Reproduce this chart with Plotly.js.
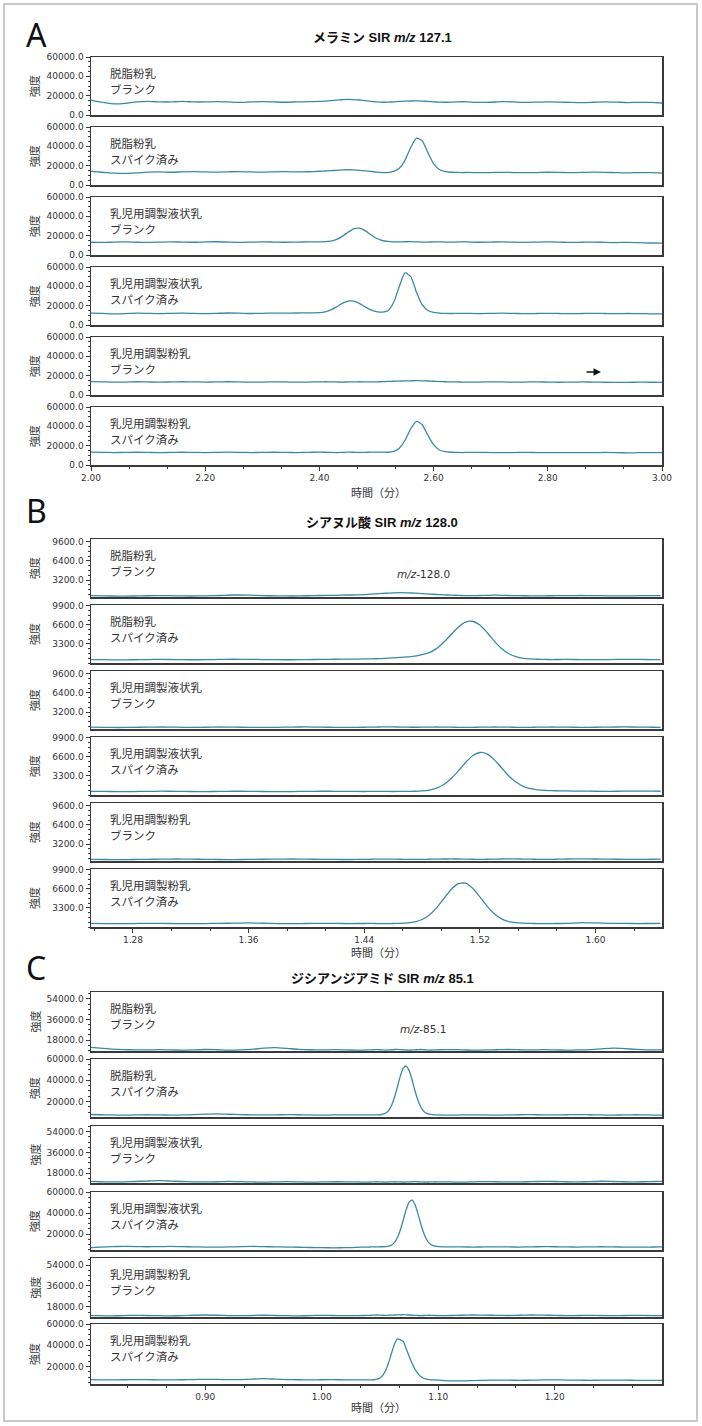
<!DOCTYPE html>
<html>
<head>
<meta charset="utf-8">
<script src="https://cdn.plot.ly/plotly-3.0.1.min.js"></script>
<style>
html,body{margin:0;padding:0;background:#fff;}
#chart{width:702px;height:1426px;}
</style>
</head>
<body>
<div id="chart"></div>
<script>
// ---------------- DATA ----------------
const panelLetters = ["A", "B", "C"];
const panelTitles = [
  "<b>メラミン SIR <i>m/z</i> 127.1</b>",
  "<b>シアヌル酸 SIR <i>m/z</i> 128.0</b>",
  "<b>ジシアンジアミド SIR <i>m/z</i> 85.1</b>"
];
const xAxisTitle = "時間（分）";
const yAxisTitle = "強度";
const sampleNames = ["脱脂粉乳", "脱脂粉乳", "乳児用調製液状乳", "乳児用調製液状乳", "乳児用調製粉乳", "乳児用調製粉乳"];
const sampleStates = ["ブランク", "スパイク済み", "ブランク", "スパイク済み", "ブランク", "スパイク済み"];
const massLabels = ["", "<i>m/z</i>-128.0", "<i>m/z</i>-85.1"];

// x ranges and ticks (minutes)
const xRangeA = [2.00, 3.00];
const xRangeB = [1.251, 1.646];
const xRangeC = [0.802, 1.292];

// y ticks per row
const yTicksA = [[0,20000,40000,60000],[0,20000,40000,60000],[0,20000,40000,60000],[0,20000,40000,60000],[0,20000,40000,60000],[0,20000,40000,60000]];
const yRangeA = [[0,60000],[0,60000],[0,60000],[0,60000],[0,60000],[0,60000]];
const yTicksB = [[3200,6400,9600],[3300,6600,9900],[3200,6400,9600],[3300,6600,9900],[3200,6400,9600],[3300,6600,9900]];
const yRangeB = [[370,10050],[0,10070],[370,10050],[0,10070],[370,10050],[0,10070]];
const yTicksC = [[18000,36000,54000],[20000,40000,60000],[18000,36000,54000],[20000,40000,60000],[18000,36000,54000],[20000,40000,60000]];
const yRangeC = [[8500,60000],[5600,60000],[9600,58900],[4800,60000],[9400,60000],[3400,60000]];

// ---- Panel A: melamine ----
const tA = [2.00,2.02,2.04,2.06,2.08,2.10,2.12,2.14,2.16,2.18,2.20,2.22,2.24,2.26,2.28,2.30,2.32,2.34,2.36,2.38,2.40,
  2.41,2.42,2.43,2.44,2.45,2.46,2.47,2.48,2.49,2.50,2.51,2.52,2.53,2.54,2.55,2.56,2.57,2.58,2.59,2.60,2.61,2.62,2.63,2.64,2.65,2.66,
  2.68,2.70,2.72,2.74,2.76,2.78,2.80,2.82,2.84,2.86,2.88,2.90,2.92,2.94,2.96,2.98,3.00];
const yA1 = [15500,13000,11500,12000,13500,14000,13500,13500,14000,13500,13500,13800,13500,13000,13500,13800,13500,13200,13500,13800,14000,
  14300,14800,15300,15800,16200,16000,15500,14800,14000,13500,13200,13300,13600,14000,14300,14500,14600,14400,14000,13600,13300,13200,13300,13500,13700,13500,
  13000,13200,13800,13500,13000,13300,13600,13400,13000,12800,13200,13600,13300,12900,13100,13000,12400];
const yA2 = [14000,13200,12200,12000,12500,13300,13500,13200,13600,13800,13500,13300,13600,13900,13500,13300,13600,13800,13500,13700,14200,
  14500,14800,15200,15600,15800,15600,15200,14600,14000,13400,12900,12800,14000,17300,25800,38800,48400,45700,33500,22000,16000,13900,13200,13000,12900,13000,
  12800,12900,13100,12900,12700,12900,13200,13000,12800,13000,13300,13100,12800,12600,12800,12700,12300];
const yA3 = [13200,13000,13300,13500,13200,13000,13300,13600,13400,13200,13500,13700,13400,13100,13300,13600,13400,13200,13400,13500,13600,
  13750,14400,16100,19300,23600,27100,27800,25200,21000,17300,15000,14000,13600,13500,13700,13800,13600,13400,13300,13500,13600,13400,13300,13400,13600,13500,
  13200,13400,13600,13300,13100,13300,13500,13300,13000,13200,13400,13100,12900,13100,12800,12400,12200];
const yA4 = [12300,12000,11600,11800,12200,12000,11800,12100,12300,12000,11800,12100,12400,12200,11900,12100,12300,12200,12400,12500,12700,
  13600,15700,18800,22300,24700,24700,22300,18800,15700,13900,13300,14800,23200,40000,54000,50000,34000,21000,15000,13000,12300,12000,11900,12000,12100,12000,
  11800,12000,12200,12000,11700,11900,12100,11900,11700,11900,12100,11900,11700,11900,11800,11600,11500];
const yA5 = [13800,13600,13300,13400,13700,13500,13300,13500,13700,13600,13400,13500,13700,13500,13300,13400,13600,13500,13300,13400,13600,
  13700,13600,13500,13400,13500,13600,13700,13600,13500,13600,13800,14000,14200,14400,14600,14700,14800,14700,14500,14200,13900,13700,13600,13500,13400,13300,
  13400,13600,13500,13300,13400,13600,13400,13200,13300,13500,13400,13200,13000,13100,13300,13200,13100];
const yA6 = [13300,13100,12900,13000,13200,13000,12800,13000,13200,13100,12900,13100,13300,13100,12900,13000,13200,13000,12900,13100,13300,
  13200,13000,12900,13100,13300,13200,13000,13100,13300,13400,13300,13200,14000,17400,25600,37500,45200,41700,30800,21000,15500,13800,13200,13000,12900,13000,
  13100,12900,12800,12900,13100,12900,12700,12800,12900,12700,12800,13000,12800,12600,12700,12800,12700];

// ---- Panel B: cyanuric acid ----
const tB = [1.25,1.26,1.27,1.28,1.29,1.30,1.31,1.32,1.33,1.34,1.35,1.36,1.37,1.38,1.39,1.40,1.41,1.42,1.43,1.44,
  1.445,1.45,1.455,1.46,1.465,1.47,1.475,1.48,1.485,1.49,1.495,1.50,1.505,1.51,1.515,1.52,1.525,1.53,1.535,1.54,1.545,1.55,1.555,1.56,1.565,1.57,1.575,
  1.58,1.59,1.60,1.61,1.62,1.63,1.64,1.645];
const yB1 = [600,560,520,540,580,600,570,540,560,620,700,680,600,560,540,580,620,650,700,780,
  850,920,1000,1060,1090,1070,1010,940,860,790,730,680,640,610,600,620,650,670,650,620,600,580,570,560,570,580,590,
  590,620,600,570,560,590,610,600];
const yB2 = [600,570,540,560,600,620,590,560,580,620,650,630,600,580,560,590,620,650,680,700,
  720,760,800,880,960,1060,1180,1450,1800,2500,3600,4900,6200,7100,7250,6600,5300,3800,2500,1600,1100,820,700,650,620,600,610,
  620,600,580,600,640,620,590,580];
const yB3 = [680,650,620,640,680,700,670,640,660,700,680,650,630,650,690,710,680,650,640,660,
  680,700,720,710,690,670,660,670,690,700,690,670,650,640,650,670,690,700,690,670,650,640,650,670,690,700,690,
  670,650,660,690,710,690,660,650];
const yB4 = [650,620,590,600,630,660,640,610,600,620,650,640,610,590,600,630,650,640,620,610,
  620,630,620,610,620,640,650,700,850,1190,1810,2810,4140,5590,6800,7380,7130,6130,4730,3310,2260,1500,1100,900,800,750,720,
  700,680,650,640,660,680,660,650];
const yB5 = [640,620,600,620,650,680,700,680,650,620,610,630,660,690,700,680,650,630,620,640,
  660,680,690,680,660,640,630,640,660,680,700,710,700,680,660,650,660,680,700,720,710,690,670,650,640,650,670,
  700,720,700,670,650,640,660,680];
const yB6 = [620,600,580,600,640,620,590,570,600,640,660,700,650,600,580,610,640,620,600,610,
  620,600,590,610,640,700,880,1300,2080,3320,4910,6470,7520,7610,6740,5240,3620,2300,1420,950,750,660,620,600,590,600,610,
  620,760,700,640,620,600,610,620];

// ---- Panel C: dicyandiamide ----
const tC = [0.80,0.81,0.82,0.83,0.84,0.85,0.86,0.87,0.88,0.89,0.90,0.91,0.92,0.93,0.94,0.95,0.96,0.97,0.98,0.99,1.00,1.01,1.02,1.03,1.04,
  1.0425,1.045,1.0475,1.05,1.0525,1.055,1.0575,1.06,1.0625,1.065,1.0675,1.07,1.0725,1.075,1.0775,1.08,1.0825,1.085,1.0875,1.09,1.0925,1.095,1.0975,1.10,
  1.11,1.12,1.13,1.14,1.15,1.16,1.17,1.18,1.19,1.20,1.21,1.22,1.23,1.24,1.25,1.26,1.27,1.28,1.29,1.30];
const yC1 = [11800,11000,10200,9700,9500,9400,9700,9500,9300,9400,9800,9600,9300,9500,10000,11000,11400,10800,10000,9600,9400,9700,9500,9300,9400,
  9500,9600,9700,9600,9400,9300,9400,9600,9800,9900,9700,9500,9400,9300,9400,9500,9700,9800,9600,9400,9300,9400,9500,9600,
  9700,9500,9300,9400,9600,9800,9600,9400,9700,9500,9300,9400,9700,10400,11000,10600,9900,9500,9400,9600];
const yC2 = [8000,7700,7500,7400,7500,7700,7600,7400,7500,7800,8300,8600,8200,7800,7600,7500,7600,7800,7700,7500,7400,7500,7600,7500,7500,
  7500,7550,7600,7700,8200,9300,11900,16700,24300,34100,44200,51500,53400,49100,40500,30200,21500,15000,11000,9000,8200,7800,7600,7500,
  7400,7500,7600,7500,7400,7500,7700,7800,7600,7500,7700,7900,7700,7500,7400,7600,7700,7500,7400,7500];
const yC3 = [11000,10700,10500,10600,10900,11300,11600,11300,10900,10600,10500,10700,11000,10800,10500,10400,10600,10800,10600,10400,10500,10700,10600,10500,10400,
  10500,10600,10700,10600,10500,10400,10500,10600,10700,10600,10500,10400,10500,10600,10700,10800,10700,10600,10500,10400,10500,10600,10700,10600,
  10500,10400,10600,10800,10700,10500,10600,10800,11000,10900,10700,10600,10800,11100,10900,10700,10600,10800,11000,10900];
const yC4 = [7000,7600,8000,8200,8100,7900,8000,8200,8000,7800,7600,7500,7700,8000,8200,8000,7800,7600,7400,7200,7000,6900,7000,7300,7600,
  7700,7800,7800,7900,7900,8000,8450,9600,12100,16700,24100,33600,43300,50300,52200,48100,39600,29600,21000,14800,11000,9200,8400,8000,
  7800,7700,7600,7700,7800,7700,7600,7800,8000,7900,7700,7600,7800,7900,7700,7600,7500,7600,7700,7600];
const yC5 = [10600,10500,10400,10600,10800,10700,10500,10400,10600,10900,11100,10900,10600,10500,10700,10900,10700,10500,10400,10600,10800,10700,10500,10600,10800,
  10900,11000,11100,11000,10900,10800,10900,11000,11100,11200,11300,11400,11300,11100,10900,10800,10700,10600,10700,10800,10900,10800,10700,10600,
  10700,10900,11100,11000,10800,10700,10900,11100,11000,10800,10600,10700,10800,10700,10600,10700,10800,10700,10600,10700];
const yC6 = [7500,7300,7200,7400,7600,7500,7300,7200,7400,7600,7800,7700,7500,7600,8000,8400,8000,7600,7400,7300,7400,7500,7300,7200,7300,
  7300,7400,7900,9100,11800,16600,23900,32900,41200,46000,45000,43500,36600,29600,22900,17300,13200,10400,8800,7900,7500,7300,7200,7100,
  6400,6300,6600,6900,7100,7000,6900,7000,7200,7300,7100,7000,6900,7000,7100,7000,6900,6800,6900,7000];

// ---------------- LAYOUT ----------------
const W = 702, H = 1426;
const PX0 = 91, PX1 = 662;
const rowPx = [
  [[57,115],[127,185],[197,255],[267,325],[337,395],[407,465]],
  [[539,597],[605,663],[671,729],[737,795],[803,861],[869,927]],
  [[992,1051],[1059,1117],[1126,1183],[1192,1250],[1258,1317],[1324,1384]]
];
const panelX = [tA, tB, tC];
const panelY = [[yA1,yA2,yA3,yA4,yA5,yA6],[yB1,yB2,yB3,yB4,yB5,yB6],[yC1,yC2,yC3,yC4,yC5,yC6]];
const panelXRange = [xRangeA, xRangeB, xRangeC];
const panelXTick = [{tick0:2.0, dtick:0.2}, {tick0:1.28, dtick:0.08}, {tick0:0.9, dtick:0.1}];
const panelYTicks = [yTicksA, yTicksB, yTicksC];
const panelYRange = [yRangeA, yRangeB, yRangeC];
const letterY = [34, 511, 967];
const titleY = [38, 522, 978];
const xTitleY = [492, 952, 1407];

const px = v => v / W;
const py = v => 1 - v / H;

const AX_COLOR = '#3a3a3a';
const TRACE_COLOR = '#3c8aa2';
const tickFont = {family: 'DejaVu Sans, Verdana, sans-serif', size: 9, color: '#333'};
const jpFont = 'Noto Sans CJK JP, sans-serif';

const traces = [];
const layout = {
  width: W, height: H,
  margin: {l:0, r:0, t:0, b:0},
  paper_bgcolor: '#fff', plot_bgcolor: '#fff',
  showlegend: false,
  annotations: [],
  shapes: [{type:'rect', xref:'paper', yref:'paper', x0:px(4), x1:px(697), y0:py(1421), y1:py(4),
            line:{color:'#c9c9c9', width:2}}]
};

let k = 0;
for (let p = 0; p < 3; p++) {
  for (let r = 0; r < 6; r++) {
    k++;
    const xs = k === 1 ? '' : String(k);
    const [top, bot] = rowPx[p][r];
    const isBottom = r === 5;
    traces.push({
      x: panelX[p], y: panelY[p][r], xaxis: 'x' + xs, yaxis: 'y' + xs,
      type: 'scatter', mode: 'lines',
      line: {color: TRACE_COLOR, width: 1.3, shape: 'spline', smoothing: 0.6},
      hoverinfo: 'skip'
    });
    const tv = panelYTicks[p][r];
    const step = tv[1] - tv[0];
    layout['xaxis' + xs] = {
      domain: [px(PX0), px(PX1)], anchor: 'y' + xs,
      range: panelXRange[p], showgrid: false, zeroline: false,
      showline: true, mirror: true, linecolor: AX_COLOR, linewidth: 1.5,
      ticks: isBottom ? 'outside' : '', ticklen: 4, tickcolor: AX_COLOR, tickwidth: 1,
      showticklabels: isBottom, tickmode: 'linear',
      tick0: panelXTick[p].tick0, dtick: panelXTick[p].dtick,
      tickformat: '.2f', tickfont: tickFont,
      minor: isBottom ? {tick0: panelXTick[p].tick0, dtick: panelXTick[p].dtick / 3, ticks: 'outside', ticklen: 2, tickcolor: AX_COLOR, showgrid: false} : {ticks: ''},
      fixedrange: true
    };
    layout['yaxis' + xs] = {
      domain: [py(bot), py(top)], anchor: 'x' + xs,
      range: panelYRange[p][r], showgrid: false, zeroline: false,
      showline: true, mirror: true, linecolor: AX_COLOR, linewidth: 1.5,
      ticks: 'outside', ticklen: 4, tickcolor: AX_COLOR, tickwidth: 1,
      tickmode: 'array', tickvals: tv, ticktext: tv.map(v => v.toFixed(1)),
      tickfont: tickFont,
      minor: {tick0: 0, dtick: step / 4, ticks: 'outside', ticklen: 2, tickcolor: AX_COLOR, showgrid: false},
      fixedrange: true
    };
    // row labels
    layout.annotations.push({xref:'paper', yref:'paper', x:px(108), y:py(top + 16), xanchor:'left', yanchor:'middle',
      text: sampleNames[r], showarrow:false, font:{family: jpFont, size: 11.5, color:'#333'}});
    layout.annotations.push({xref:'paper', yref:'paper', x:px(108), y:py(top + 32), xanchor:'left', yanchor:'middle',
      text: sampleStates[r], showarrow:false, font:{family: jpFont, size: 11.5, color:'#333'}});
    // y title
    layout.annotations.push({xref:'paper', yref:'paper', x:px(34), y:py((top + bot) / 2), xanchor:'center', yanchor:'middle',
      text: yAxisTitle, textangle: -90, showarrow:false, font:{family: jpFont, size: 11, color:'#333'}});
  }
  // panel letter
  layout.annotations.push({xref:'paper', yref:'paper', x:px(24), y:py(letterY[p]), xanchor:'left', yanchor:'middle',
    text: panelLetters[p], showarrow:false, font:{family:'Noto Sans, sans-serif', size: 32, color:'#111'}});
  // panel title
  layout.annotations.push({xref:'paper', yref:'paper', x:px(382), y:py(titleY[p]), xanchor:'center', yanchor:'middle',
    text: panelTitles[p], showarrow:false, font:{family:'Liberation Sans, Arial, ' + jpFont, size: 13, color:'#111'}});
  // x title
  layout.annotations.push({xref:'paper', yref:'paper', x:px(378), y:py(xTitleY[p]), xanchor:'center', yanchor:'middle',
    text: xAxisTitle, showarrow:false, font:{family: jpFont, size: 11, color:'#333'}});
}
// m/z labels in blank rows
layout.annotations.push({xref:'paper', yref:'paper', x:px(423), y:py(574), xanchor:'center', yanchor:'middle',
  text: massLabels[1], showarrow:false, font:{family:'DejaVu Sans, Verdana, sans-serif', size: 10.5, color:'#333'}});
layout.annotations.push({xref:'paper', yref:'paper', x:px(423), y:py(1029), xanchor:'center', yanchor:'middle',
  text: massLabels[2], showarrow:false, font:{family:'DejaVu Sans, Verdana, sans-serif', size: 10.5, color:'#333'}});
// arrow in A row 5
layout.annotations.push({xref:'paper', yref:'paper', x:px(601), y:py(372), ax:-16, ay:0, axref:'pixel', ayref:'pixel',
  text:'', showarrow:true, arrowhead:2, arrowsize:1, arrowwidth:1.5, arrowcolor:'#111'});

Plotly.newPlot('chart', traces, layout, {staticPlot: true, displayModeBar: false});
</script>
</body>
</html>
